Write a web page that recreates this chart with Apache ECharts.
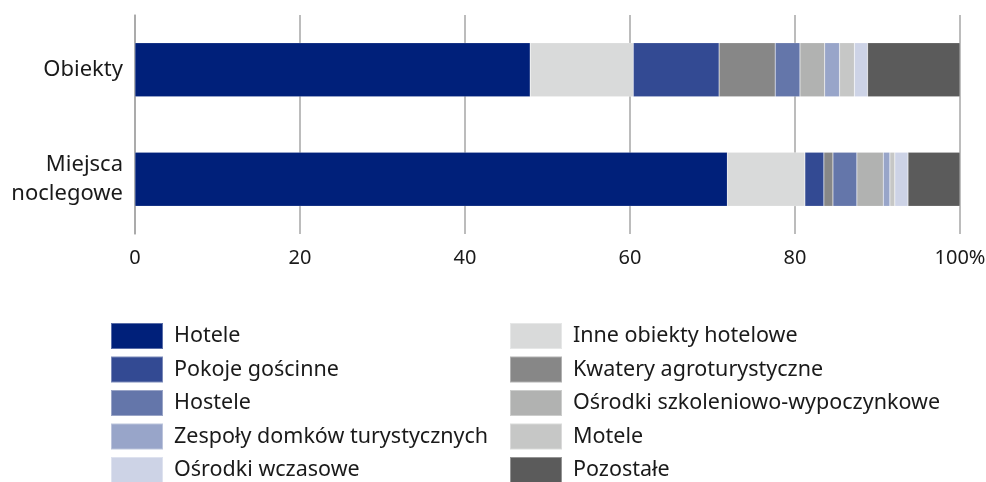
<!DOCTYPE html>
<html>
<head>
<meta charset="utf-8">
<script src="https://cdn.jsdelivr.net/npm/echarts@6/dist/echarts.min.js"></script>
<style>
  html, body { margin: 0; padding: 0; background: #fff; }
  #chart { width: 986px; height: 482px; }
</style>
</head>
<body>
<div id="chart"></div>
<script>
// kategorie (od góry)
const categories = ["Obiekty", "Miejsca\nnoclegowe"];

// udział procentowy w kolejności segmentów
const seriesNames = [
  "Hotele",
  "Inne obiekty hotelowe",
  "Pokoje gościnne",
  "Kwatery agroturystyczne",
  "Hostele",
  "Ośrodki szkoleniowo-wypoczynkowe",
  "Zespoły domków turystycznych",
  "Motele",
  "Ośrodki wczasowe",
  "Pozostałe"
];
const hotele = [47.9, 71.8];
const inneHotelowe = [12.5, 9.4];
const pokojeGoscinne = [10.4, 2.3];
const kwatery = [6.8, 1.1];
const hostele = [3.0, 2.9];
const osrodkiSzkol = [3.0, 3.2];
const zespolyDomkow = [1.8, 0.8];
const motele = [1.8, 0.6];
const osrodkiWczas = [1.6, 1.6];
const pozostale = [11.2, 6.3];
const seriesValues = [hotele, inneHotelowe, pokojeGoscinne, kwatery, hostele,
  osrodkiSzkol, zespolyDomkow, motele, osrodkiWczas, pozostale];

const colors = ["#00207a", "#d9dada", "#334a93", "#878787", "#6476aa",
  "#b1b2b1", "#98a5c9", "#c6c7c6", "#cdd3e6", "#5b5b5b"];

const xTicks = [0, 20, 40, 60, 80, 100];
const legendLeft = ["Hotele", "Pokoje gościnne", "Hostele", "Zespoły domków turystycznych", "Ośrodki wczasowe"];
const legendRight = ["Inne obiekty hotelowe", "Kwatery agroturystyczne", "Ośrodki szkoleniowo-wypoczynkowe", "Motele", "Pozostałe"];

const font = "'Noto Sans', 'Open Sans', sans-serif";

const legendCommon = {
  orient: "vertical",
  top: 322,
  height: 200,
  padding: 0,
  itemWidth: 52,
  itemHeight: 26,
  itemGap: 5.5,
  icon: "rect",
  selectedMode: false,
  textStyle: { fontFamily: font, fontSize: 21.5, lineHeight: 26, color: "#1a1a1a", padding: [0, 0, 0, 6] }
};

const option = {
  animation: false,
  color: colors,
  grid: { left: 135, right: 26, top: 15, height: 219, containLabel: false, outerBoundsMode: "none" },
  legend: [
    Object.assign({ left: 110, data: legendLeft }, legendCommon),
    Object.assign({ left: 509, data: legendRight }, legendCommon)
  ],
  xAxis: {
    type: "value",
    min: 0,
    max: 100,
    interval: 20,
    axisLine: { show: false },
    axisTick: { show: false },
    splitLine: { show: true, lineStyle: { color: "#a6a6a6", width: 1.5 } },
    axisLabel: {
      fontFamily: font, fontSize: 20, color: "#1a1a1a", margin: 14,
      formatter: v => xTicks.indexOf(v) === xTicks.length - 1 ? v + "%" : String(v)
    }
  },
  yAxis: {
    type: "category",
    inverse: true,
    data: categories,
    axisLine: { show: true, lineStyle: { color: "#a6a6a6", width: 1.5 } },
    axisTick: { show: false },
    axisLabel: { fontFamily: font, fontSize: 22, color: "#1a1a1a", margin: 12, lineHeight: 29, align: "right" }
  },
  series: seriesNames.map((name, i) => ({
    name: name,
    type: "bar",
    stack: "total",
    barWidth: 54,
    data: seriesValues[i],
    itemStyle: { color: colors[i], borderColor: "rgba(255,255,255,0.35)", borderWidth: 0.5 }
  }))
};

const chart = echarts.init(document.getElementById("chart"));
chart.setOption(option);
</script>
</body>
</html>
